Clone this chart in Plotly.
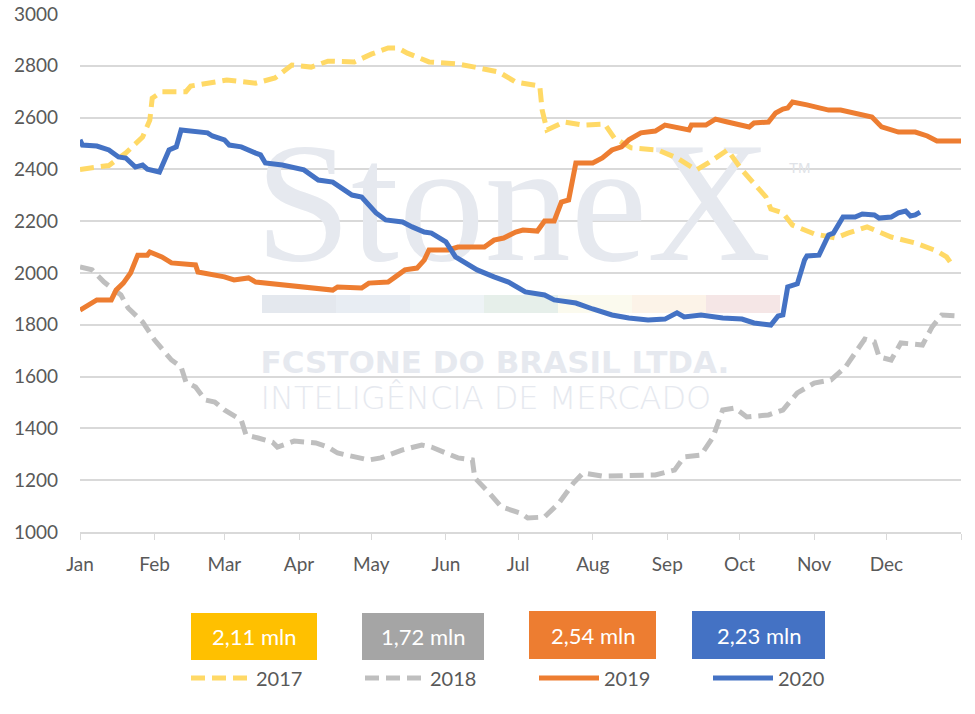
import pandas as pd
import plotly.graph_objects as go

# day-of-year offsets (from Jan 1) and values
days_2017 = [0, 12, 19, 26, 29, 30, 34, 44, 46, 53, 61, 73, 81, 88, 96, 103, 114, 121, 128, 132,
             136, 145, 157, 164, 174, 181, 191, 192, 194, 201, 209, 218, 222, 229, 240, 248, 256,
             261, 269, 275, 280, 285, 287, 292, 296, 305, 314, 319, 327, 337, 347, 356, 360, 363]
vals_2017 = [2400, 2415, 2463, 2525, 2590, 2675, 2700, 2700, 2722, 2733, 2745, 2733, 2753, 2803,
             2795, 2818, 2815, 2845, 2869, 2869, 2849, 2815, 2807, 2795, 2776, 2737, 2722, 2629,
             2552, 2583, 2571, 2575, 2521, 2483, 2475, 2444, 2398, 2425, 2475, 2398, 2348, 2293,
             2247, 2232, 2185, 2151, 2135, 2154, 2178, 2139, 2116, 2085, 2062, 2023]

days_2018 = [0, 5, 10, 17, 20, 26, 31, 38, 42, 44, 48, 52, 56, 60, 67, 69, 74, 80, 82, 89, 98, 103,
             107, 114, 120, 125, 134, 142, 146, 152, 157, 163, 164, 170, 175, 183, 186, 193, 199,
             205, 209, 217, 226, 239, 247, 251, 258, 263, 267, 272, 277, 286, 292, 298, 305, 312,
             318, 322, 326, 330, 332, 337, 341, 350, 354, 358, 365]
vals_2018 = [2023, 2012, 1965, 1915, 1865, 1811, 1741, 1664, 1637, 1579, 1560, 1510, 1502, 1471,
             1432, 1374, 1363, 1347, 1328, 1351, 1344, 1328, 1305, 1290, 1278, 1286, 1317, 1336,
             1328, 1305, 1286, 1278, 1209, 1151, 1097, 1073, 1054, 1058, 1112, 1189, 1228, 1216,
             1216, 1220, 1239, 1290, 1297, 1367, 1471, 1479, 1444, 1452, 1471, 1537, 1575, 1587,
             1637, 1691, 1745, 1734, 1676, 1664, 1730, 1722, 1792, 1838, 1834]

days_2019 = [0, 3, 7, 13, 15, 18, 21, 24, 28, 29, 34, 38, 48, 49, 60, 64, 70, 73, 86, 95, 105, 107,
             117, 120, 128, 131, 135, 140, 143, 145, 153, 157, 168, 172, 176, 181, 184, 190, 193,
             197, 200, 203, 206, 213, 217, 221, 225, 228, 233, 239, 243, 253, 254, 260, 264, 269,
             278, 280, 286, 289, 292, 294, 296, 302, 311, 316, 325, 329, 333, 340, 347, 352, 356, 366]
vals_2019 = [1857, 1876, 1896, 1896, 1934, 1961, 2000, 2069, 2069, 2081, 2062, 2039, 2031, 2004,
             1985, 1973, 1981, 1965, 1954, 1942, 1934, 1946, 1942, 1961, 1965, 1985, 2012, 2019,
             2050, 2089, 2089, 2100, 2100, 2127, 2135, 2158, 2166, 2162, 2201, 2201, 2274, 2282,
             2425, 2425, 2444, 2475, 2487, 2514, 2541, 2548, 2571, 2552, 2571, 2571, 2594, 2583,
             2564, 2579, 2583, 2618, 2633, 2637, 2660, 2649, 2629, 2629, 2610, 2602, 2564, 2544,
             2544, 2529, 2510, 2510]

days_2020 = [0, 1, 7, 12, 16, 19, 23, 26, 28, 33, 37, 40, 42, 51, 53, 55, 60, 62, 67, 73, 75, 77,
             84, 93, 99, 105, 109, 113, 117, 123, 127, 134, 138, 143, 146, 152, 156, 160, 165, 172,
             178, 185, 193, 197, 206, 213, 221, 228, 236, 243, 248, 251, 258, 267, 275, 280, 287,
             290, 292, 294, 298, 301, 302, 307, 311, 313, 317, 322, 325, 330, 332, 337, 340, 343,
             345, 347, 349]
vals_2020 = [2514, 2494, 2490, 2475, 2448, 2444, 2409, 2417, 2401, 2390, 2475, 2487, 2552, 2541,
             2541, 2529, 2514, 2494, 2487, 2463, 2456, 2425, 2417, 2398, 2359, 2351, 2328, 2301,
             2293, 2232, 2205, 2197, 2178, 2158, 2154, 2120, 2062, 2042, 2012, 1985, 1965, 1927,
             1915, 1896, 1884, 1861, 1838, 1826, 1819, 1822, 1846, 1830, 1838, 1826, 1822, 1807,
             1799, 1834, 1838, 1946, 1958, 2050, 2066, 2069, 2147, 2154, 2216, 2216, 2228, 2224,
             2212, 2216, 2232, 2239, 2220, 2224, 2235]

years = ["2017", "2018", "2019", "2020"]
box_labels = ["2,11 mln", "1,72 mln", "2,54 mln", "2,23 mln"]
month_labels = ["Jan", "Feb", "Mar", "Apr", "May", "Jun", "Jul", "Aug", "Sep", "Oct", "Nov", "Dec", ""]

colors = ["#FFD966", "#BFBFBF", "#ED7D31", "#4472C4"]
box_colors = ["#FFC000", "#A5A5A5", "#ED7D31", "#4472C4"]
dashes = ["14px,7px", "14px,7px", "solid", "solid"]

BASE = pd.Timestamp("2020-01-01")
W, H = 975, 714
L, R, T, B = 80, 14, 14, 182


def to_dates(days):
    return BASE + pd.to_timedelta(days, unit="D")


def px_x(x):
    return (x - L) / (W - L - R)


def px_y(y):
    return (H - B - y) / (H - T - B)


fig = go.Figure()

# watermark, drawn as text traces so the data lines sit on top
wm_color = "#E6E9EF"
fig.add_trace(go.Scatter(
    x=[BASE + pd.Timedelta(days=180)], y=[2215], mode="text", text=["StoneX"],
    textfont=dict(family="Liberation Serif", size=172, color=wm_color),
    showlegend=False, hoverinfo="skip"))
fig.add_trace(go.Scatter(
    x=[BASE + pd.Timedelta(days=299)], y=[2402], mode="text", text=["TM"],
    textfont=dict(family="Liberation Sans", size=15, color="#E0E3E8"),
    showlegend=False, hoverinfo="skip"))
fig.add_trace(go.Scatter(
    x=[BASE + pd.Timedelta(days=75)], y=[1645], mode="text", text=["FCSTONE DO BRASIL LTDA."],
    textposition="middle right",
    textfont=dict(family="DejaVu Sans", size=31, color=wm_color, weight="bold"),
    showlegend=False, hoverinfo="skip"))
fig.add_trace(go.Scatter(
    x=[BASE + pd.Timedelta(days=75)], y=[1505], mode="text", text=["INTELIGÊNCIA DE MERCADO"],
    textposition="middle right",
    textfont=dict(family="DejaVu Sans", size=32, color=wm_color, weight=200),
    showlegend=False, hoverinfo="skip"))

for year, days, vals, col, dash in zip(
        years, [days_2017, days_2018, days_2019, days_2020],
        [vals_2017, vals_2018, vals_2019, vals_2020], colors, dashes):
    fig.add_trace(go.Scatter(
        x=to_dates(days), y=vals, mode="lines", name=year,
        line=dict(color=col, width=5, dash=dash),
    ))

# colour band of the watermark
band = ["#E4E8EE", "#E8EDF3", "#EEF3F6", "#E6EFEA", "#FBFAEE", "#FCF3E8", "#F5E6E6"]
shapes = []
for i, c in enumerate(band):
    x0 = 262 + i * 74
    shapes.append(dict(type="rect", xref="paper", yref="paper", layer="between",
                       x0=px_x(x0), x1=px_x(x0 + 74), y0=px_y(313), y1=px_y(295),
                       fillcolor=c, line=dict(width=0)))

# value boxes above the legend
box_px = [(191, 317, 613, 660), (362, 484, 613, 660), (529, 656, 611, 659), (692, 825, 611, 659)]
annotations = []
for (x0, x1, y0, y1), c, lab in zip(box_px, box_colors, box_labels):
    shapes.append(dict(type="rect", xref="paper", yref="paper",
                       x0=px_x(x0), x1=px_x(x1), y0=px_y(y1), y1=px_y(y0),
                       fillcolor=c, line=dict(width=0)))
    annotations.append(dict(xref="paper", yref="paper", x=px_x((x0 + x1) / 2),
                            y=px_y((y0 + y1) / 2), xanchor="center", yanchor="middle",
                            text=lab, showarrow=False,
                            font=dict(family="Lato", size=22, color="white")))

tickvals = [BASE + pd.DateOffset(months=m) for m in range(13)]

fig.update_layout(
    width=W, height=H,
    margin=dict(l=L, r=R, t=T, b=B, autoexpand=False),
    paper_bgcolor="white", plot_bgcolor="white",
    font=dict(family="Lato", color="#595959"),
    shapes=shapes, annotations=annotations,
    legend=dict(orientation="h", x=px_x(186), y=px_y(678), xanchor="left", yanchor="middle",
                itemwidth=60, entrywidth=99, font=dict(size=20, color="#595959"),
                bgcolor="rgba(0,0,0,0)"),
    xaxis=dict(range=[BASE, BASE + pd.DateOffset(years=1)], tickvals=tickvals,
               ticktext=month_labels, showgrid=False, showline=True, linecolor="#D9D9D9",
               linewidth=1.5, ticks="outside", ticklen=6, tickcolor="#D9D9D9",
               tickfont=dict(size=19, color="#595959"), ticklabelstandoff=8, zeroline=False),
    yaxis=dict(range=[1000, 3000], dtick=200, showgrid=True, gridcolor="#D9D9D9",
               gridwidth=1.5, showline=False, zeroline=False, ticks="",
               tickfont=dict(size=19, color="#595959"), ticklabelstandoff=21),
)

fig.write_html("out.html", config={"displayModeBar": False},
               post_script="document.body.style.margin='0';")
